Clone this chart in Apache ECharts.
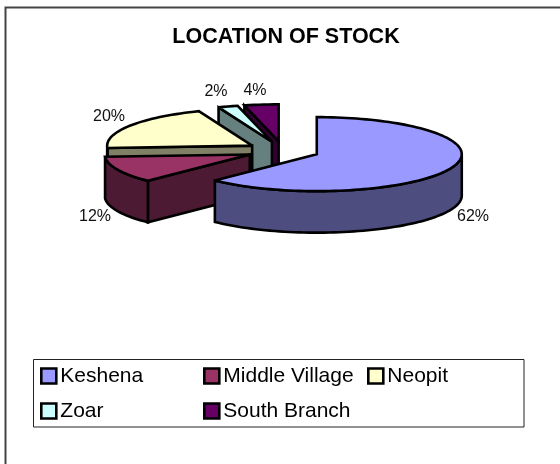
<!DOCTYPE html>
<html>
<head>
<meta charset="utf-8">
<style>html,body{margin:0;padding:0;background:#fff}#c{width:560px;height:464px}</style>
<script src="https://cdn.jsdelivr.net/npm/echarts@6/dist/echarts.min.js"></script>
</head>
<body>
<div id="c"></div>
<script>
var titleText = 'LOCATION OF STOCK';
var categories = ['Keshena', 'Middle Village', 'Neopit', 'Zoar', 'South Branch'];
var values = [62.4, 11.6, 20, 2.2, 3.8];
var topColors = ['#9999FF', '#993366', '#FFFFCC', '#CCFFFF', '#660066'];
var sideColors = ['#4D4D80', '#4D1A33', '#808066', '#668080', '#330033'];

var FONT = '"Liberation Sans", Arial, sans-serif';
var CX = 283, CY = 150.6, RX = 145, RY = 37, EXPLODE = 36.5, DEPTH = 41.5;
var labelPos = [[473, 216.5], [95, 216.5], [109, 116.5], [216, 91.5], [255, 90.5]];

var total = values.reduce(function (a, b) { return a + b; }, 0);
var starts = [], acc = 0;
values.forEach(function (v) { starts.push(acc / total * 360); acc += v; });

function pt(cx, cy, deg, dz) {
  var r = deg * Math.PI / 180;
  return [cx + RX * Math.sin(r), cy - RY * Math.cos(r) + (dz || 0)];
}
function arc(cx, cy, a, b, dz) {
  var out = [], n = Math.max(2, Math.ceil(Math.abs(b - a) / 2));
  for (var i = 0; i <= n; i++) out.push(pt(cx, cy, a + (b - a) * i / n, dz));
  return out;
}
var LINE = { stroke: '#000', lineWidth: 2.6, lineJoin: 'miter', miterLimit: 3 };
function poly(points, fill) {
  return { type: 'polygon', shape: { points: points }, style: Object.assign({ fill: fill }, LINE) };
}

function renderSlice(idx) {
  return function (params, api) {
    var v = api.value(0);
    var a = starts[idx], b = a + v / total * 360, m = (a + b) / 2, mr = m * Math.PI / 180;
    var cx = CX + EXPLODE * Math.sin(mr), cy = CY - EXPLODE * (RY / RX) * Math.cos(mr);
    var kids = [], side = sideColors[idx], apex = [cx, cy], apexB = [cx, cy + DEPTH];
    // cut faces that look toward the viewer
    if (Math.sin(b * Math.PI / 180) > 0.001) {
      kids.push(poly([apex, pt(cx, cy, b), pt(cx, cy, b, DEPTH), apexB], side));
    }
    if (Math.sin(a * Math.PI / 180) < -0.001) {
      kids.push(poly([apex, pt(cx, cy, a), pt(cx, cy, a, DEPTH), apexB], side));
    }
    // outer rim, front half only
    var s = Math.max(a, 90), e = Math.min(b, 270);
    if (e > s) {
      kids.push(poly(arc(cx, cy, s, e, 0).concat(arc(cx, cy, e, s, DEPTH)), side));
    }
    // top face
    kids.push(poly([apex].concat(arc(cx, cy, a, b, 0)), topColors[idx]));
    // percentage label
    kids.push({
      type: 'text', z2: 10,
      style: {
        text: Math.round(v / total * 100) + '%', x: labelPos[idx][0], y: labelPos[idx][1],
        fill: '#111', font: '16px ' + FONT, textAlign: 'center', textVerticalAlign: 'middle'
      }
    });
    return { type: 'group', children: kids };
  };
}

var series = categories.map(function (name, i) {
  return {
    type: 'custom', name: name, coordinateSystem: 'none', z: 10 - i,
    data: [[values[i]]], renderItem: renderSlice(i), animation: false, silent: true,
    color: topColors[i], itemStyle: { color: topColors[i] }
  };
});

function legendCol(names, left) {
  return {
    data: names, left: left, top: 362.5, orient: 'vertical', padding: 0, itemGap: 8,
    itemWidth: 15, itemHeight: 15, selectedMode: false, icon: 'rect',
    itemStyle: { borderColor: '#000', borderWidth: 2.6 },
    textStyle: { fontFamily: FONT, fontSize: 21, color: '#000', padding: [0, 0, 0, -1], lineHeight: 27 }
  };
}

var chart = echarts.init(document.getElementById('c'), null, { renderer: 'canvas' });
chart.setOption({
  backgroundColor: '#fff',
  animation: false,
  title: {
    text: titleText, left: 286, top: 26.5, textAlign: 'center', padding: 0,
    textStyle: { fontFamily: FONT, fontSize: 21.5, fontWeight: 'bold', color: '#000' }
  },
  legend: [
    legendCol([categories[0], categories[3]], 40),
    legendCol([categories[1], categories[4]], 203),
    legendCol([categories[2]], 367)
  ],
  graphic: [
    { type: 'polyline', z: -1, shape: { points: [[5.5, 464], [5.5, 7.5], [560, 7.5]] },
      style: { fill: null, stroke: '#444', lineWidth: 2 }, silent: true },
    { type: 'rect', z: -1, shape: { x: 33.5, y: 359.5, width: 490.5, height: 67.5 },
      style: { fill: '#fff', stroke: '#222', lineWidth: 1 }, silent: true }
  ],
  series: series
});
</script>
</body>
</html>
